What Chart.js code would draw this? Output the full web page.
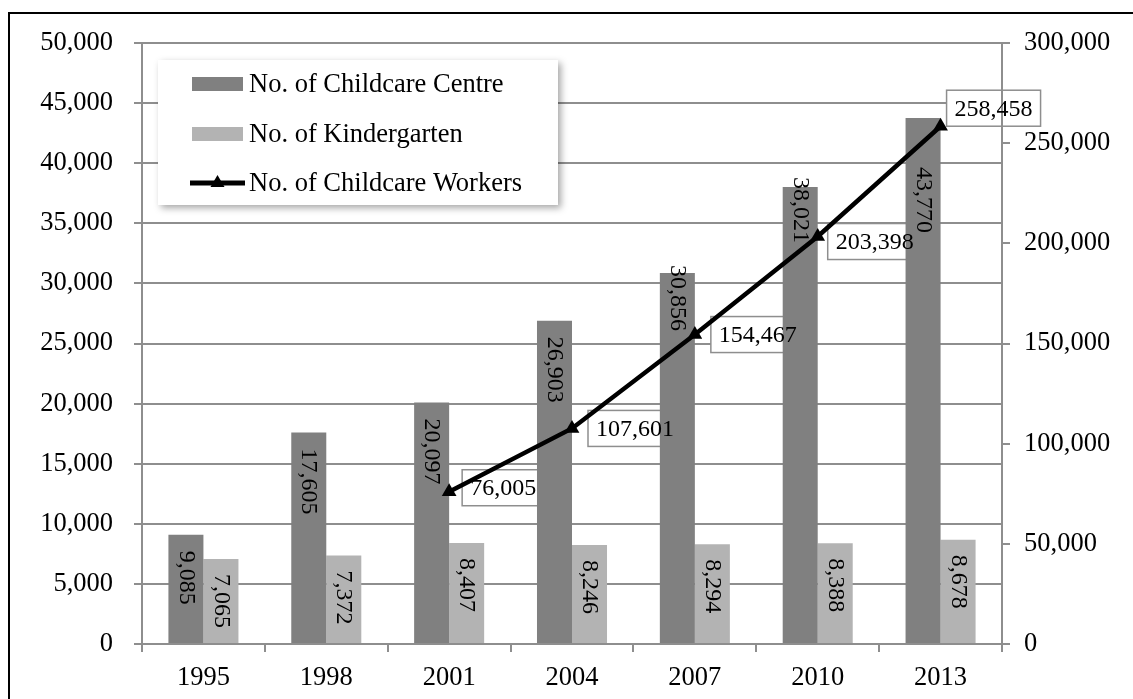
<!DOCTYPE html>
<html>
<head>
<meta charset="utf-8">
<title>Childcare centres, kindergartens and childcare workers</title>
<script src="https://cdn.jsdelivr.net/npm/chart.js@4.4.1/dist/chart.umd.min.js"></script>
<style>
  html, body { margin: 0; padding: 0; background: #ffffff; }
  #wrap { width: 1133px; height: 699px; }
</style>
</head>
<body>
<div id="wrap"><canvas id="chart" width="1133" height="699"></canvas></div>
<script>
// ---- data ----
const years = ['1995', '1998', '2001', '2004', '2007', '2010', '2013'];
const childcareCentres = [9085, 17605, 20097, 26903, 30856, 38021, 43770];
const kindergartens = [7065, 7372, 8407, 8246, 8294, 8388, 8678];
const childcareWorkers = [null, null, 76005, 107601, 154467, 203398, 258458];

const leftAxisMax = 50000;
const leftAxisStep = 5000;
const rightAxisMax = 300000;
const rightAxisStep = 50000;

// ---- styling ----
const FONT = "'Liberation Serif', 'Times New Roman', serif";
const GRID = '#8e8e8e';
const CENTRE_COLOR = '#808080';
const KINDER_COLOR = '#b3b3b3';

// distance (px) from the top of each bar to the start of its rotated label
const centreLabelGap = [16, 16, 16, 16, -8, -10, 49];
const kinderLabelGap = [15, 15, 15, 15, 15, 15, 15];
// boxed worker labels: [dx to box left edge, dy of box centre] from the point
const workerLabelShift = [null, null, [13, -4], [16, 0], [16, 0], [10, 5], [6, -18]];

const fmt = v => Number(v).toLocaleString('en-US');

const decor = {
  id: 'decor',
  beforeDatasetsDraw(chart) {
    const ctx = chart.ctx;
    const area = chart.chartArea;
    const meta = chart.getDatasetMeta(2);
    ctx.save();
    ctx.font = '24px ' + FONT;
    meta.data.forEach((pt, i) => {
      const v = childcareWorkers[i];
      const sh = workerLabelShift[i];
      if (v == null || !sh) return;
      const text = fmt(v);
      const w = ctx.measureText(text).width + 16;
      const h = 36;
      const left = pt.x + sh[0];
      const top = pt.y + sh[1] - h / 2;
      ctx.fillStyle = '#ffffff';
      ctx.fillRect(left, top, w, h);
      ctx.strokeStyle = GRID;
      ctx.lineWidth = 1.5;
      ctx.strokeRect(left, top, w, h);
    });
    // right value axis line sits above the label boxes
    ctx.strokeStyle = GRID;
    ctx.lineWidth = 2;
    ctx.beginPath();
    ctx.moveTo(area.right, area.top);
    ctx.lineTo(area.right, area.bottom + 8);
    ctx.stroke();
    ctx.restore();
  },
  afterDatasetsDraw(chart) {
    const ctx = chart.ctx;
    ctx.save();
    ctx.fillStyle = '#000000';
    ctx.font = '24px ' + FONT;
    ctx.textAlign = 'left';
    ctx.textBaseline = 'middle';

    // rotated value labels inside the bars
    [[0, childcareCentres, centreLabelGap], [1, kindergartens, kinderLabelGap]].forEach(([idx, values, gaps]) => {
      chart.getDatasetMeta(idx).data.forEach((bar, i) => {
        ctx.save();
        ctx.translate(bar.x, bar.y + gaps[i]);
        ctx.rotate(Math.PI / 2);
        ctx.fillText(fmt(values[i]), 0, 0);
        ctx.restore();
      });
    });

    // worker counts in their boxes
    chart.getDatasetMeta(2).data.forEach((pt, i) => {
      const v = childcareWorkers[i];
      const sh = workerLabelShift[i];
      if (v == null || !sh) return;
      ctx.fillText(fmt(v), pt.x + sh[0] + 8, pt.y + sh[1] + 1);
    });

    // legend panel
    const lx = 158, ly = 60, lw = 400, lh = 145;
    ctx.save();
    ctx.shadowColor = 'rgba(0,0,0,0.35)';
    ctx.shadowBlur = 7;
    ctx.shadowOffsetX = 3;
    ctx.shadowOffsetY = 3;
    ctx.fillStyle = '#ffffff';
    ctx.fillRect(lx, ly, lw, lh);
    ctx.restore();

    const rows = [84, 134, 183];
    const ds = chart.data.datasets;
    ctx.font = '26.5px ' + FONT;
    ctx.fillStyle = ds[0].backgroundColor;
    ctx.fillRect(192, rows[0] - 7, 51, 14);
    ctx.fillStyle = ds[1].backgroundColor;
    ctx.fillRect(192, rows[1] - 7, 51, 14);
    ctx.strokeStyle = '#000000';
    ctx.lineWidth = 5;
    ctx.beginPath();
    ctx.moveTo(190, rows[2]);
    ctx.lineTo(245, rows[2]);
    ctx.stroke();
    ctx.fillStyle = '#000000';
    ctx.beginPath();
    ctx.moveTo(217.5, rows[2] - 8);
    ctx.lineTo(224.5, rows[2] + 4);
    ctx.lineTo(210.5, rows[2] + 4);
    ctx.closePath();
    ctx.fill();
    ds.forEach((d, i) => {
      ctx.fillText(d.label, 249, rows[i] + 1);
    });
    ctx.restore();
  },
  afterDraw(chart) {
    const ctx = chart.ctx;
    ctx.save();
    ctx.strokeStyle = '#000000';
    ctx.lineWidth = 2;
    ctx.strokeRect(9, 13, 1140, 700);
    ctx.restore();
  }
};

Chart.defaults.font.family = FONT;
Chart.defaults.color = '#000000';

new Chart(document.getElementById('chart'), {
  type: 'bar',
  data: {
    labels: years,
    datasets: [
      {
        label: 'No. of Childcare Centre',
        data: childcareCentres,
        backgroundColor: CENTRE_COLOR,
        yAxisID: 'y',
        order: 2,
        categoryPercentage: 0.57,
        barPercentage: 1.0
      },
      {
        label: 'No. of Kindergarten',
        data: kindergartens,
        backgroundColor: KINDER_COLOR,
        yAxisID: 'y',
        order: 2,
        categoryPercentage: 0.57,
        barPercentage: 1.0
      },
      {
        type: 'line',
        label: 'No. of Childcare Workers',
        data: childcareWorkers,
        yAxisID: 'y1',
        order: 1,
        borderColor: '#000000',
        backgroundColor: '#000000',
        borderWidth: 4.5,
        pointStyle: 'triangle',
        pointRadius: 8.5,
        pointBorderWidth: 0,
        pointBackgroundColor: '#000000',
        tension: 0,
        fill: false
      }
    ]
  },
  options: {
    responsive: false,
    devicePixelRatio: 1,
    animation: false,
    layout: { padding: { top: 43, left: 0, right: 0, bottom: 0 } },
    plugins: {
      legend: { display: false },
      tooltip: { enabled: false }
    },
    scales: {
      x: {
        offset: true,
        grid: {
          offset: true,
          drawOnChartArea: false,
          drawTicks: true,
          tickLength: 8,
          color: GRID,
          lineWidth: 2
        },
        border: { display: true, color: GRID, width: 2 },
        ticks: { font: { size: 26.5 }, padding: 10, color: '#000' },
        afterFit(scale) { scale.height = 55; }
      },
      y: {
        position: 'left',
        min: 0,
        max: leftAxisMax,
        ticks: {
          stepSize: leftAxisStep,
          font: { size: 26.5 },
          padding: 21,
          color: '#000',
          callback: v => fmt(v)
        },
        grid: { color: GRID, lineWidth: 2, tickLength: 8, drawTicks: true },
        border: { display: true, color: GRID, width: 2 },
        afterFit(scale) { scale.width = 142; }
      },
      y1: {
        position: 'right',
        min: 0,
        max: rightAxisMax,
        ticks: {
          stepSize: rightAxisStep,
          font: { size: 26.5 },
          padding: 14,
          color: '#000',
          callback: v => fmt(v)
        },
        grid: { drawOnChartArea: false, color: GRID, lineWidth: 2, tickLength: 8, drawTicks: true },
        border: { display: true, color: GRID, width: 2 },
        afterFit(scale) { scale.width = 131; }
      }
    }
  },
  plugins: [decor]
});
</script>
</body>
</html>
